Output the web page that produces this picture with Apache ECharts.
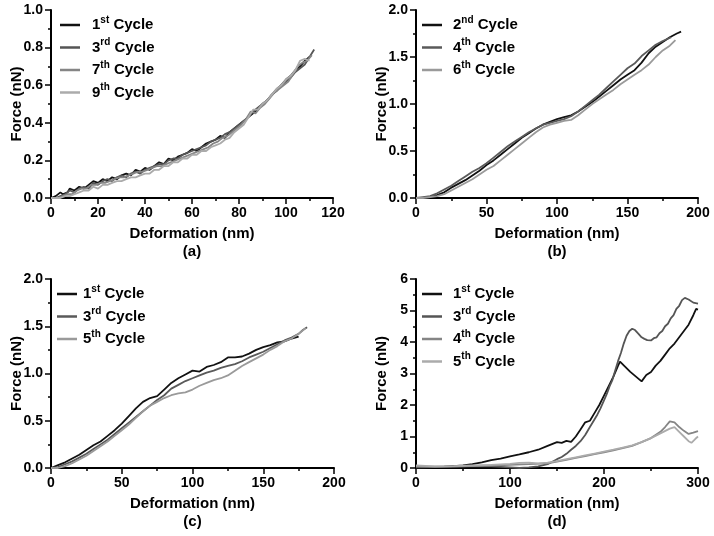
<!DOCTYPE html>
<html>
<head>
<meta charset="utf-8">
<script src="https://cdn.jsdelivr.net/npm/echarts@6/dist/echarts.min.js"></script>
<style>
  html, body { margin: 0; padding: 0; background: #fff; }
  #chart { width: 714px; height: 536px; }
</style>
</head>
<body>
<div id="chart"></div>
<script>
// Panel (a): deformation (nm), force (nN)
const a1st = [[0,0.00],[2,0.01],[4,0.03],[5,0.02],[7,0.03],[8,0.05],[10,0.04],[12,0.06],[14,0.05],[16,0.07],[18,0.09],[20,0.08],[22,0.10],[24,0.09],[26,0.11],[28,0.10],[30,0.12],[32,0.13],[34,0.12],[36,0.15],[38,0.14],[40,0.16],[42,0.15],[44,0.17],[46,0.19],[48,0.18],[50,0.21],[52,0.20],[54,0.22],[56,0.23],[58,0.24],[60,0.26],[62,0.25],[64,0.27],[66,0.29],[68,0.30],[70,0.31],[72,0.33],[74,0.32],[76,0.35],[78,0.37],[80,0.39],[82,0.41],[84,0.43],[86,0.45],[88,0.47],[90,0.50],[92,0.52],[94,0.55],[96,0.57],[98,0.60],[100,0.63],[102,0.65],[104,0.68],[106,0.70],[108,0.73],[110,0.75]];
const a3rd = [[0,0.00],[2,0.00],[4,0.01],[6,0.02],[8,0.04],[10,0.03],[12,0.05],[14,0.06],[16,0.05],[18,0.08],[20,0.07],[22,0.09],[24,0.10],[26,0.09],[28,0.11],[30,0.12],[32,0.11],[34,0.13],[36,0.14],[38,0.13],[40,0.15],[42,0.16],[44,0.17],[46,0.18],[48,0.18],[50,0.20],[52,0.21],[54,0.21],[56,0.23],[58,0.24],[60,0.25],[62,0.26],[64,0.27],[66,0.28],[68,0.30],[70,0.31],[72,0.32],[74,0.34],[76,0.35],[78,0.37],[80,0.39],[82,0.41],[84,0.43],[86,0.46],[88,0.48],[90,0.50],[92,0.52],[94,0.55],[96,0.58],[98,0.60],[100,0.62],[102,0.64],[104,0.67],[106,0.69],[108,0.71],[110,0.75],[112,0.79]];
const a7th = [[0,0.00],[3,0.00],[5,0.01],[7,0.02],[9,0.02],[11,0.04],[13,0.05],[15,0.05],[17,0.07],[19,0.07],[21,0.08],[23,0.08],[25,0.09],[27,0.10],[29,0.11],[31,0.11],[33,0.12],[35,0.13],[37,0.14],[39,0.14],[41,0.15],[43,0.16],[45,0.17],[47,0.17],[49,0.18],[51,0.19],[53,0.20],[55,0.21],[57,0.22],[59,0.23],[61,0.24],[63,0.25],[65,0.26],[67,0.27],[69,0.29],[71,0.30],[73,0.32],[75,0.33],[77,0.35],[79,0.37],[81,0.39],[83,0.42],[85,0.46],[87,0.45],[89,0.48],[91,0.50],[93,0.53],[95,0.56],[97,0.58],[99,0.60],[101,0.62],[103,0.66],[105,0.70],[107,0.72],[109,0.73],[111,0.76]];
const a9th = [[0,0.00],[4,0.00],[6,0.01],[8,0.01],[10,0.02],[12,0.03],[14,0.04],[16,0.04],[18,0.06],[20,0.05],[22,0.07],[24,0.07],[26,0.08],[28,0.09],[30,0.09],[32,0.10],[34,0.11],[36,0.11],[38,0.12],[40,0.13],[42,0.13],[44,0.15],[46,0.15],[48,0.17],[50,0.17],[52,0.19],[54,0.19],[56,0.21],[58,0.21],[60,0.23],[62,0.23],[64,0.25],[66,0.25],[68,0.27],[70,0.28],[72,0.29],[74,0.31],[76,0.32],[78,0.35],[80,0.37],[82,0.39],[84,0.43],[86,0.47],[88,0.47],[90,0.50],[92,0.52],[94,0.55],[96,0.58],[98,0.60],[100,0.63],[102,0.65],[104,0.68],[106,0.73],[108,0.74],[110,0.73]];

// Panel (b)
const b2nd = [[0,0],[5,0],[10,0.01],[15,0.03],[20,0.06],[25,0.11],[30,0.15],[35,0.19],[40,0.24],[45,0.29],[50,0.35],[55,0.40],[60,0.46],[65,0.52],[70,0.58],[75,0.64],[80,0.69],[85,0.74],[90,0.78],[95,0.81],[100,0.84],[105,0.86],[110,0.88],[115,0.92],[120,0.97],[125,1.02],[130,1.08],[135,1.14],[140,1.20],[145,1.26],[150,1.31],[155,1.36],[160,1.44],[165,1.54],[170,1.61],[175,1.66],[180,1.71],[185,1.75],[188,1.77]];
const b4th = [[0,0],[5,0.01],[10,0.02],[15,0.05],[20,0.09],[25,0.13],[30,0.18],[35,0.23],[40,0.28],[45,0.32],[50,0.37],[55,0.43],[60,0.49],[65,0.55],[70,0.60],[75,0.65],[80,0.70],[85,0.74],[90,0.78],[95,0.80],[100,0.82],[105,0.84],[110,0.87],[115,0.92],[120,0.98],[125,1.04],[130,1.10],[135,1.17],[140,1.24],[145,1.31],[150,1.38],[155,1.43],[160,1.51],[165,1.57],[170,1.63],[175,1.67],[181,1.71]];
const b6th = [[0,0],[5,0],[10,0.01],[15,0.02],[20,0.04],[25,0.08],[30,0.12],[35,0.16],[40,0.20],[45,0.25],[50,0.30],[55,0.34],[60,0.40],[65,0.46],[70,0.52],[75,0.58],[80,0.64],[85,0.70],[90,0.75],[95,0.78],[100,0.80],[105,0.82],[110,0.83],[115,0.88],[120,0.94],[125,1.00],[130,1.05],[135,1.10],[140,1.15],[145,1.21],[150,1.26],[155,1.31],[160,1.36],[165,1.42],[170,1.50],[175,1.57],[180,1.62],[184,1.68]];

// Panel (c)
const c1st = [[0,0],[5,0.03],[10,0.06],[15,0.10],[20,0.14],[25,0.19],[30,0.24],[35,0.28],[40,0.34],[45,0.40],[50,0.47],[55,0.55],[60,0.63],[65,0.70],[70,0.74],[75,0.76],[80,0.83],[85,0.90],[90,0.95],[95,0.99],[100,1.03],[105,1.02],[110,1.07],[115,1.09],[120,1.12],[125,1.17],[130,1.17],[135,1.18],[140,1.21],[145,1.25],[150,1.28],[155,1.30],[160,1.33],[165,1.34],[170,1.37],[175,1.39]];
const c3rd = [[0,0],[5,0.01],[10,0.04],[15,0.07],[20,0.11],[25,0.15],[30,0.20],[35,0.25],[40,0.30],[45,0.36],[50,0.42],[55,0.48],[60,0.54],[65,0.60],[70,0.66],[75,0.72],[80,0.77],[85,0.84],[90,0.88],[95,0.92],[100,0.95],[105,0.98],[110,1.01],[115,1.03],[120,1.06],[125,1.08],[130,1.10],[135,1.13],[140,1.17],[145,1.20],[150,1.23],[155,1.27],[160,1.31],[165,1.35],[170,1.38],[175,1.42],[178,1.46],[181,1.49]];
const c5th = [[0,0],[5,0],[10,0.02],[15,0.05],[20,0.09],[25,0.13],[30,0.18],[35,0.23],[40,0.28],[45,0.34],[50,0.40],[55,0.46],[60,0.53],[65,0.60],[70,0.66],[75,0.70],[80,0.74],[85,0.77],[90,0.79],[95,0.80],[100,0.83],[105,0.87],[110,0.90],[115,0.93],[120,0.95],[125,0.98],[130,1.03],[135,1.08],[140,1.12],[145,1.16],[150,1.20],[155,1.25],[160,1.29],[165,1.34],[170,1.37],[175,1.42],[180,1.48]];

// Panel (d)
const d1st = [[0,0.02],[10,0.02],[20,0.03],[30,0.04],[40,0.06],[50,0.08],[60,0.12],[70,0.18],[80,0.25],[90,0.30],[100,0.37],[110,0.43],[120,0.50],[130,0.58],[140,0.70],[150,0.82],[155,0.80],[160,0.86],[165,0.83],[170,1.00],[175,1.22],[180,1.45],[185,1.50],[190,1.75],[195,2.00],[200,2.30],[205,2.60],[210,2.90],[215,3.25],[217,3.38],[228,3.05],[240,2.75],[245,2.95],[250,3.05],[255,3.25],[260,3.40],[265,3.60],[270,3.80],[275,3.95],[280,4.15],[285,4.35],[290,4.55],[295,4.85],[298,5.05],[300,5.03]];
const d3rd = [[0,0.02],[20,0.03],[40,0.04],[60,0.06],[80,0.05],[100,0.02],[110,0.00],[120,0.02],[130,0.05],[140,0.12],[145,0.20],[150,0.28],[155,0.35],[160,0.45],[165,0.58],[170,0.70],[175,0.85],[180,1.05],[185,1.30],[190,1.55],[193,1.70],[196,1.88],[200,2.15],[203,2.35],[206,2.60],[209,2.80],[212,3.10],[215,3.40],[218,3.65],[221,3.95],[224,4.20],[227,4.35],[230,4.42],[233,4.38],[236,4.28],[240,4.15],[243,4.10],[246,4.06],[250,4.05],[253,4.12],[256,4.15],[259,4.28],[262,4.35],[265,4.50],[268,4.58],[271,4.75],[274,4.85],[277,5.05],[280,5.15],[283,5.33],[286,5.40],[290,5.35],[295,5.25],[300,5.22]];
const d4th = [[0,0.05],[20,0.04],[40,0.05],[60,0.06],[80,0.08],[100,0.10],[120,0.12],[140,0.15],[150,0.20],[160,0.26],[170,0.32],[180,0.38],[190,0.44],[200,0.50],[210,0.56],[220,0.63],[230,0.70],[240,0.82],[250,0.95],[260,1.15],[265,1.30],[270,1.48],[275,1.45],[280,1.30],[285,1.18],[290,1.08],[295,1.12],[300,1.17]];
const d5th = [[0,0.08],[20,0.05],[40,0.06],[60,0.08],[80,0.10],[100,0.13],[110,0.16],[120,0.17],[130,0.15],[140,0.17],[150,0.22],[160,0.28],[170,0.34],[180,0.40],[190,0.46],[200,0.52],[210,0.58],[220,0.65],[230,0.72],[240,0.82],[250,0.95],[260,1.10],[270,1.25],[275,1.30],[280,1.15],[285,1.00],[290,0.85],[293,0.80],[297,0.92],[300,1.00]];

// legend ordinals per panel
const aOrdinals = [['1', 'st'], ['3', 'rd'], ['7', 'th'], ['9', 'th']];
const bOrdinals = [['2', 'nd'], ['4', 'th'], ['6', 'th']];
const cOrdinals = [['1', 'st'], ['3', 'rd'], ['5', 'th']];
const dOrdinals = [['1', 'st'], ['3', 'rd'], ['4', 'th'], ['5', 'th']];

const panelLetters = ['(a)', '(b)', '(c)', '(d)'];

const FONT = '"Liberation Sans", Arial, sans-serif';
const greys4 = ['#111111', '#555555', '#858585', '#ababab'];
const greys3 = ['#111111', '#5a5a5a', '#9a9a9a'];

const chart = echarts.init(document.getElementById('chart'));

const grids = [
    {left: 51, top: 10, width: 282, height: 188},
    {left: 416, top: 10, width: 282, height: 188},
    {left: 51, top: 279, width: 283, height: 189},
    {left: 416, top: 279, width: 282, height: 189},
];

const axisLine = {show: true, onZero: false, lineStyle: {color: '#000', width: 2}};
const axisTick = {show: true, length: 6, lineStyle: {color: '#000', width: 1.5}};
const minorTick = {show: true, splitNumber: 2, length: 3, lineStyle: {color: '#000', width: 1.5}};
const labelStyle = {fontFamily: FONT, fontWeight: 'bold', fontSize: 14, color: '#000'};

function makeX(i, max, interval) {
    return {
        type: 'value', gridIndex: i, min: 0, max: max, interval: interval,
        name: 'Deformation (nm)\n' + panelLetters[i],
        nameLocation: 'middle', nameGap: 27, nameMoveOverlap: false,
        nameTextStyle: {fontFamily: FONT, fontWeight: 'bold', fontSize: 15, color: '#000', lineHeight: 18},
        axisLine: axisLine, axisTick: axisTick, minorTick: minorTick,
        axisLabel: Object.assign({margin: 8}, labelStyle),
        splitLine: {show: false},
    };
}

function makeY(i, max, interval, digits) {
    return {
        type: 'value', gridIndex: i, min: 0, max: max, interval: interval,
        name: 'Force (nN)',
        nameLocation: 'middle', nameGap: 27, nameMoveOverlap: false,
        nameTextStyle: {fontFamily: FONT, fontWeight: 'bold', fontSize: 15, color: '#000'},
        axisLine: axisLine, axisTick: axisTick, minorTick: minorTick,
        axisLabel: Object.assign({margin: 8, formatter: (v) => v.toFixed(digits)}, labelStyle),
        splitLine: {show: false},
    };
}

const panels = [
    {data: [a1st, a3rd, a7th, a9th], ords: aOrdinals, colors: greys4, prefix: 'a', legendLeft: 60, legendTop: 15, pad: 7},
    {data: [b2nd, b4th, b6th], ords: bOrdinals, colors: greys3, prefix: 'b', legendLeft: 422, legendTop: 15, pad: 6},
    {data: [c1st, c3rd, c5th], ords: cOrdinals, colors: greys3, prefix: 'c', legendLeft: 57, legendTop: 284, pad: 1},
    {data: [d1st, d3rd, d4th, d5th], ords: dOrdinals, colors: greys4, prefix: 'd', legendLeft: 422, legendTop: 284, pad: 6},
];

const series = [];
const legends = [];
panels.forEach((p, i) => {
    const names = [];
    const labels = {};
    p.data.forEach((d, k) => {
        const name = p.prefix + p.ords[k][0];
        names.push(name);
        labels[name] = '{n|' + p.ords[k][0] + '}{s|' + p.ords[k][1] + '}{c| Cycle}';
        series.push({
            type: 'line', name: name, xAxisIndex: i, yAxisIndex: i,
            data: d, symbol: 'none', animation: false,
            lineStyle: {color: p.colors[k], width: 1.8},
            itemStyle: {color: p.colors[k]},
        });
    });
    legends.push({
        data: names, orient: 'vertical', left: p.legendLeft, top: p.legendTop, padding: 0,
        itemWidth: 20, itemHeight: 2.5, itemGap: 5, icon: 'rect', selectedMode: false,
        formatter: (name) => labels[name],
        textStyle: {
            rich: {
                n: {fontFamily: FONT, fontWeight: 'bold', fontSize: 15, color: '#000', lineHeight: 20, padding: [0, 0, 0, p.pad]},
                s: {fontFamily: FONT, fontWeight: 'bold', fontSize: 10, color: '#000', lineHeight: 12, verticalAlign: 'top'},
                c: {fontFamily: FONT, fontWeight: 'bold', fontSize: 15, color: '#000', lineHeight: 20},
            },
        },
    });
});

const option = {
    backgroundColor: '#fff',
    animation: false,
    grid: grids.map((g) => Object.assign({outerBoundsMode: 'none'}, g)),
    xAxis: [makeX(0, 120, 20), makeX(1, 200, 50), makeX(2, 200, 50), makeX(3, 300, 100)],
    yAxis: [makeY(0, 1, 0.2, 1), makeY(1, 2, 0.5, 1), makeY(2, 2, 0.5, 1), makeY(3, 6, 1, 0)],
    legend: legends,
    series: series,
};

chart.setOption(option);
</script>
</body>
</html>
